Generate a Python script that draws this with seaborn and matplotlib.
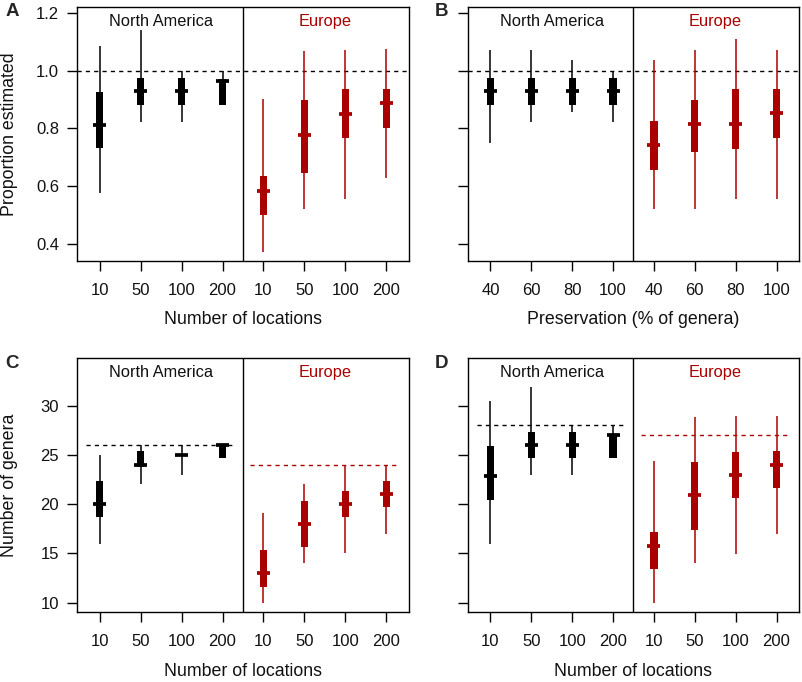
import numpy as np
import pandas as pd
import seaborn as sns
import matplotlib
matplotlib.use("Agg")
import matplotlib.pyplot as plt

sns.set_theme(style="ticks")
plt.rcParams['font.family'] = ['Liberation Sans', 'DejaVu Sans']

BLACK = "#000000"
RED = "#AA0000"

loc_labels = ["10", "50", "100", "200"]
pres_labels = ["40", "60", "80", "100"]
regions = ["North America", "Europe"]

# Panel A: proportion estimated vs number of locations
a_na_lo = [0.575, 0.821, 0.821, 0.881]
a_na_hi = [1.087, 1.141, 1.000, 1.000]
a_na_q1 = [0.733, 0.881, 0.881, 0.881]
a_na_q3 = [0.926, 0.975, 0.975, 0.972]
a_na_md = [0.813, 0.931, 0.931, 0.965]
a_eu_lo = [0.372, 0.519, 0.556, 0.629]
a_eu_hi = [0.903, 1.069, 1.072, 1.074]
a_eu_q1 = [0.500, 0.646, 0.765, 0.802]
a_eu_q3 = [0.636, 0.898, 0.935, 0.935]
a_eu_md = [0.584, 0.777, 0.851, 0.889]

# Panel B: proportion estimated vs preservation
b_na_lo = [0.750, 0.821, 0.855, 0.821]
b_na_hi = [1.072, 1.072, 1.036, 1.000]
b_na_q1 = [0.881, 0.881, 0.881, 0.881]
b_na_q3 = [0.975, 0.975, 0.975, 0.975]
b_na_md = [0.931, 0.931, 0.931, 0.931]
b_eu_lo = [0.519, 0.519, 0.556, 0.556]
b_eu_hi = [1.036, 1.072, 1.109, 1.072]
b_eu_q1 = [0.655, 0.719, 0.728, 0.765]
b_eu_q3 = [0.825, 0.900, 0.936, 0.936]
b_eu_md = [0.742, 0.814, 0.814, 0.852]

# Panel C: number of genera vs number of locations
c_na_lo = [16.0, 22.0, 23.0, 24.7]
c_na_hi = [25.0, 26.0, 26.0, 26.0]
c_na_q1 = [18.66, 23.74, 25.0, 24.72]
c_na_q3 = [22.35, 25.36, 25.0, 26.1]
c_na_md = [20.0, 24.0, 25.0, 26.0]
c_eu_lo = [10.0, 14.0, 15.0, 17.0]
c_eu_hi = [19.07, 22.05, 24.0, 24.0]
c_eu_q1 = [11.63, 15.68, 18.66, 19.68]
c_eu_q3 = [15.35, 20.34, 21.37, 22.35]
c_eu_md = [13.0, 18.0, 20.0, 21.0]

# Panel D: number of genera vs number of locations
d_na_lo = [16.0, 22.96, 23.0, 24.65]
d_na_hi = [30.44, 31.93, 28.0, 28.0]
d_na_q1 = [20.46, 24.65, 24.65, 24.65]
d_na_q3 = [25.94, 27.29, 27.29, 27.12]
d_na_md = [22.83, 26.0, 26.0, 27.0]
d_eu_lo = [10.0, 14.0, 14.97, 17.0]
d_eu_hi = [24.42, 28.88, 28.95, 29.0]
d_eu_q1 = [13.45, 17.38, 20.66, 21.67]
d_eu_q3 = [17.14, 24.25, 25.30, 25.36]
d_eu_md = [15.72, 20.96, 22.96, 24.0]

# reference (true) values
ref_a = [1.0, 1.0]
ref_b = [1.0, 1.0]
ref_c = [26.0, 24.0]
ref_d = [28.0, 27.0]


def make_df(na, eu):
    rows = []
    for reg, vals, col in (("North America", na, BLACK), ("Europe", eu, RED)):
        lo, hi, q1, q3, md = vals
        for i in range(4):
            rows.append(dict(region=reg, pos=i + (1 if reg == "North America" else 5),
                             lo=lo[i], hi=hi[i], q1=q1[i], q3=q3[i], md=md[i], color=col))
    return pd.DataFrame(rows)


fig = plt.figure(figsize=(8.02, 6.82), dpi=100)
W, H = 802, 682


def add_axes(l, t, r, b):
    return fig.add_axes([l / W, 1 - b / H, (r - l) / W, (b - t) / H])


axA = add_axes(77, 7, 409, 261)
axB = add_axes(468, 7, 799, 261)
axC = add_axes(77, 358, 409, 612)
axD = add_axes(468, 358, 799, 612)

panels = [
    (axA, make_df((a_na_lo, a_na_hi, a_na_q1, a_na_q3, a_na_md), (a_eu_lo, a_eu_hi, a_eu_q1, a_eu_q3, a_eu_md)),
     ref_a, "full", loc_labels, "Number of locations", "A", True, (0.340, 1.2208),
     [0.4, 0.6, 0.8, 1.0, 1.2], ["0.4", "0.6", "0.8", "1.0", "1.2"]),
    (axB, make_df((b_na_lo, b_na_hi, b_na_q1, b_na_q3, b_na_md), (b_eu_lo, b_eu_hi, b_eu_q1, b_eu_q3, b_eu_md)),
     ref_b, "full", pres_labels, "Preservation (% of genera)", "B", False, (0.340, 1.2208),
     [0.4, 0.6, 0.8, 1.0, 1.2], ["0.4", "0.6", "0.8", "1.0", "1.2"]),
    (axC, make_df((c_na_lo, c_na_hi, c_na_q1, c_na_q3, c_na_md), (c_eu_lo, c_eu_hi, c_eu_q1, c_eu_q3, c_eu_md)),
     ref_c, "split", loc_labels, "Number of locations", "C", True, (9.05, 34.84),
     [10, 15, 20, 25, 30], ["10", "15", "20", "25", "30"]),
    (axD, make_df((d_na_lo, d_na_hi, d_na_q1, d_na_q3, d_na_md), (d_eu_lo, d_eu_hi, d_eu_q1, d_eu_q3, d_eu_md)),
     ref_d, "split", loc_labels, "Number of locations", "D", False, (9.05, 34.84),
     [10, 15, 20, 25, 30], ["10", "15", "20", "25", "30"]),
]

ylabels = {"A": "Proportion estimated", "C": "Number of genera"}

for ax, df, ref, refmode, xlabs, xlabel, letter, showy, ylim, yt, ytl in panels:
    ax.set_facecolor("white")
    # reference dashed lines
    if refmode == "full":
        ax.hlines(ref[0], 0.45, 8.55, colors=BLACK, linestyles=(0, (3, 3)), lw=1.0, zorder=1)
    else:
        ax.hlines(ref[0], 0.68, 4.32, colors=BLACK, linestyles=(0, (3, 3)), lw=1.0, zorder=1)
        ax.hlines(ref[1], 4.68, 8.32, colors=RED, linestyles=(0, (3, 3)), lw=1.0, zorder=1)
    # whiskers
    ax.vlines(df["pos"], df["lo"], df["hi"], colors=df["color"], lw=1.1, zorder=2)
    # boxes
    ax.bar(df["pos"], df["q3"] - df["q1"], bottom=df["q1"], width=0.175,
           color=df["color"], edgecolor="none", zorder=3)
    # medians
    ax.hlines(df["md"], df["pos"] - 0.16, df["pos"] + 0.16, colors=df["color"],
              lw=2.7, zorder=4, capstyle="butt")
    # divider
    ax.axvline(4.5, color=BLACK, lw=1.0, zorder=5)

    ax.set_xlim(0.45, 8.55)
    ax.set_ylim(*ylim)
    ax.set_xticks(range(1, 9))
    ax.set_xticklabels(xlabs + xlabs)
    ax.set_yticks(yt)
    if showy:
        ax.set_yticklabels(ytl)
    else:
        ax.set_yticklabels([])
    ax.tick_params(axis="x", length=7, width=1.0, color=BLACK, pad=9, labelsize=12, labelcolor="#111111")
    ax.tick_params(axis="y", length=7, width=1.0, color=BLACK, pad=6, labelsize=12, labelcolor="#111111")
    for s in ax.spines.values():
        s.set_visible(True)
        s.set_color(BLACK)
        s.set_linewidth(1.0)

    ax.text(2.5, 0.942, "North America", transform=ax.get_xaxis_transform(),
            ha="center", va="center", fontsize=11.8, color="#111111")
    ax.text(6.5, 0.942, "Europe", transform=ax.get_xaxis_transform(),
            ha="center", va="center", fontsize=11.8, color=RED)

    ax.text(0.5, -59 / 254, xlabel, transform=ax.transAxes, ha="center", va="center",
            fontsize=12.8, color="#111111")

# panel letters
fig.text(12.5 / W, 1 - 12 / H, "A", ha="center", va="center", fontsize=13.5, fontweight="bold")
fig.text(441 / W, 1 - 12 / H, "B", ha="center", va="center", fontsize=13.5, fontweight="bold")
fig.text(12.5 / W, 1 - 363 / H, "C", ha="center", va="center", fontsize=13.5, fontweight="bold")
fig.text(441 / W, 1 - 363 / H, "D", ha="center", va="center", fontsize=13.5, fontweight="bold")

# y labels
fig.text(10 / W, 1 - 134 / H, ylabels["A"], rotation=90, ha="center", va="center",
         fontsize=12.8, color="#111111")
fig.text(10 / W, 1 - 485 / H, ylabels["C"], rotation=90, ha="center", va="center",
         fontsize=12.8, color="#111111")

fig.savefig("out.png", dpi=100, facecolor="white")
